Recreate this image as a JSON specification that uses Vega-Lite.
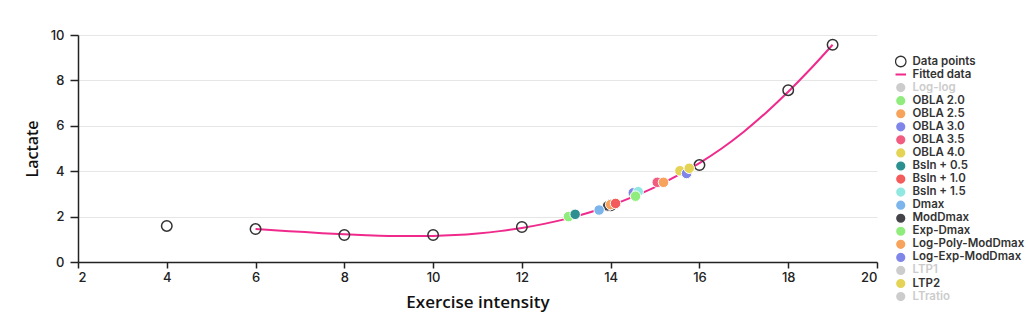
{
  "$schema": "https://vega.github.io/schema/vega-lite/v6.json",
  "autosize": "none",
  "width": 799,
  "height": 227,
  "padding": {"left": 78, "top": 35, "right": 151, "bottom": 69},
  "background": "white",
  "config": {
    "view": {"stroke": null},
    "font": "Open Sans"
  },
  "datasets": {
    "points": [
      {"x": 4, "y": 1.59}, {"x": 6, "y": 1.45}, {"x": 8, "y": 1.19}, {"x": 10, "y": 1.19},
      {"x": 12, "y": 1.54}, {"x": 14, "y": 2.5}, {"x": 16, "y": 4.27}, {"x": 18, "y": 7.57}, {"x": 19, "y": 9.57}
    ],
    "fit": [
      {"x": 6, "y": 1.45}, {"x": 6.5, "y": 1.39}, {"x": 7, "y": 1.33}, {"x": 7.5, "y": 1.27},
      {"x": 8, "y": 1.22}, {"x": 8.5, "y": 1.18}, {"x": 9, "y": 1.15}, {"x": 9.5, "y": 1.14},
      {"x": 10, "y": 1.15}, {"x": 10.5, "y": 1.19}, {"x": 11, "y": 1.26}, {"x": 11.5, "y": 1.36},
      {"x": 12, "y": 1.5}, {"x": 12.5, "y": 1.68}, {"x": 13, "y": 1.9}, {"x": 13.5, "y": 2.17},
      {"x": 14, "y": 2.49}, {"x": 14.5, "y": 2.87}, {"x": 15, "y": 3.3}, {"x": 15.5, "y": 3.8},
      {"x": 16, "y": 4.36}, {"x": 16.5, "y": 5.0}, {"x": 17, "y": 5.74}, {"x": 17.5, "y": 6.58},
      {"x": 18, "y": 7.5}, {"x": 18.5, "y": 8.5}, {"x": 19, "y": 9.57}
    ],
    "thresholds": [
      {"method": "ModDmax", "x": 13.93, "y": 2.47},
      {"method": "OBLA 2.0", "x": 13.05, "y": 2.0},
      {"method": "OBLA 2.5", "x": 14.0, "y": 2.53},
      {"method": "OBLA 3.0", "x": 14.51, "y": 3.05},
      {"method": "OBLA 3.5", "x": 15.05, "y": 3.51},
      {"method": "OBLA 4.0", "x": 15.56, "y": 4.02},
      {"method": "Bsln + 0.5", "x": 13.2, "y": 2.1},
      {"method": "Bsln + 1.0", "x": 14.11, "y": 2.58},
      {"method": "Bsln + 1.5", "x": 14.62, "y": 3.1},
      {"method": "Dmax", "x": 13.74, "y": 2.29},
      {"method": "Exp-Dmax", "x": 14.56, "y": 2.9},
      {"method": "Log-Poly-ModDmax", "x": 15.19, "y": 3.51},
      {"method": "Log-Exp-ModDmax", "x": 15.71, "y": 3.9},
      {"method": "LTP2", "x": 15.77, "y": 4.13}
    ]
  },
  "encoding": {
    "x": {
      "field": "x", "type": "quantitative",
      "scale": {"domain": [2, 20], "nice": false, "zero": false},
      "axis": {
        "title": "Exercise intensity", "values": [2, 4, 6, 8, 10, 12, 14, 16, 18, 20],
        "grid": false, "domainColor": "#222222", "domainWidth": 1.5,
        "tickColor": "#222222", "tickSize": 6, "tickWidth": 1.5,
        "labelFont": "Inter", "labelFontSize": 13, "labelFontWeight": 500, "labelColor": "#222222",
        "labelPadding": 3,
        "titleFont": "Open Sans", "titleFontSize": 17, "titleFontWeight": 600, "titleColor": "#111111",
        "titlePadding": 10
      }
    },
    "y": {
      "field": "y", "type": "quantitative",
      "scale": {"domain": [0, 10], "nice": false},
      "axis": {
        "title": "Lactate", "values": [0, 2, 4, 6, 8, 10],
        "grid": true, "gridColor": "#e6e6e6", "gridWidth": 1,
        "domainColor": "#222222", "domainWidth": 1.5,
        "tickColor": "#222222", "tickSize": 8, "tickWidth": 1.5,
        "labelFont": "Inter", "labelFontSize": 13, "labelFontWeight": 500, "labelColor": "#222222",
        "labelPadding": 6,
        "titleFont": "Open Sans", "titleFontSize": 16, "titleFontWeight": 600, "titleColor": "#111111",
        "titlePadding": 10
      }
    }
  },
  "layer": [
    {
      "data": {"name": "fit"},
      "mark": {"type": "line", "color": "#ef2a8c", "strokeWidth": 2, "interpolate": "monotone"},
      "encoding": {}
    },
    {
      "data": {"name": "points"},
      "mark": {"type": "point", "shape": "circle", "filled": false, "stroke": "#333333", "strokeWidth": 1.5, "size": 110, "opacity": 1},
      "encoding": {}
    },
    {
      "data": {"name": "thresholds"},
      "mark": {"type": "circle", "opacity": 1, "size": 110, "stroke": "white", "strokeWidth": 1},
      "encoding": {
        "color": {
          "field": "method", "type": "nominal",
          "sort": null,
          "scale": {
            "domain": ["Data points", "Fitted data", "Log-log", "OBLA 2.0", "OBLA 2.5", "OBLA 3.0", "OBLA 3.5", "OBLA 4.0", "Bsln + 0.5", "Bsln + 1.0", "Bsln + 1.5", "Dmax", "ModDmax", "Exp-Dmax", "Log-Poly-ModDmax", "Log-Exp-ModDmax", "LTP1", "LTP2", "LTratio"],
            "range": ["#ffffff", "#ffffff", "#cccccc", "#90ed7d", "#f7a35c", "#8085e9", "#f15c80", "#e4d354", "#2b908f", "#f45b5b", "#91e8e1", "#7cb5ec", "#434348", "#90ed7d", "#f7a35c", "#8085e9", "#cccccc", "#e4d354", "#cccccc"]
          },
          "legend": {
            "title": null,
            "orient": "none",
            "legendX": 817,
            "legendY": 20,
            "rowPadding": 0.06,
            "clipHeight": 13,
            "labelFont": "Inter",
            "labelFontSize": 11.5,
            "labelFontWeight": 600,
            "labelColor": {"expr": "indexof(['Log-log', 'LTP1', 'LTratio'], datum.value) >= 0 ? '#cccccc' : '#333333'"},
            "labelLimit": 200,
            "symbolSize": 110,
            "symbolType": {"expr": "datum.value === 'Fitted data' ? 'stroke' : 'circle'"},
            "symbolStrokeColor": {"expr": "datum.value === 'Data points' ? '#333333' : datum.value === 'Fitted data' ? '#ef2a8c' : '#ffffff'"},
            "symbolStrokeWidth": {"expr": "datum.value === 'Fitted data' ? 2 : 1.3"},
            "symbolOpacity": 1,
            "labelOffset": 6
          }
        }
      }
    }
  ]
}
